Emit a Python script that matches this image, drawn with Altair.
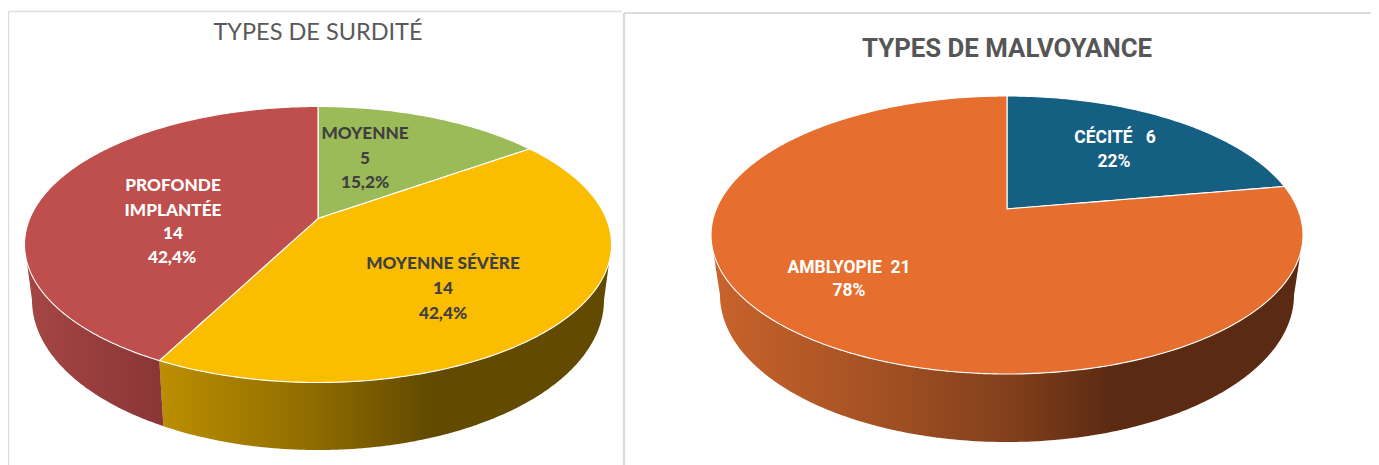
import math
import altair as alt
import pandas as pd

# ---- values ----
DEAF_NAMES = ["MOYENNE", "MOYENNE SÉVÈRE", "PROFONDE IMPLANTÉE"]
DEAF_VALUES = [5, 14, 14]
DEAF_COLORS = ["#9BBB59", "#FBBD00", "#BE4F4D"]
BLIND_NAMES = ["CÉCITÉ", "AMBLYOPIE"]
BLIND_VALUES = [6, 21]
BLIND_COLORS = ["#156082", "#E66F30"]

TITLE_LEFT = "TYPES DE SURDITÉ"
TITLE_RIGHT = "TYPES DE MALVOYANCE"

# ---- layout (page pixels) ----
W, H = 1363, 457
LEFT = dict(cx=318, apex=218.5, top=106.5, bottom=382.5, rx=293.5,
            low_cy=300, low_rx=286, low_ry=150, join=262)
RIGHT = dict(cx=1007, apex=209, top=96, bottom=374, rx=296,
             low_cy=295, low_rx=287, low_ry=147, join=253)


def make_proj(g):
    up = g["apex"] - g["top"]
    down = g["bottom"] - g["apex"]
    k = (up - down) / (up + down)
    a = down * (1 + k)
    b = g["rx"] * math.sqrt(1 - k * k)

    def proj(phi):
        u, v = math.sin(phi), -math.cos(phi)
        d = 1 + k * v
        return g["cx"] + b * u / d, g["apex"] + a * v / d
    return proj


def arc(proj, p0, p1, step=math.radians(1)):
    n = max(2, int(abs(p1 - p0) / step) + 1)
    return [proj(p0 + (p1 - p0) * i / n) for i in range(n + 1)]


def sweep(poly, apex_x=None):
    """Turn a polygon into x / y_top / y_bottom rows for an area mark."""
    xs = {round(p[0], 3) for p in poly}
    if apex_x is not None:
        xs |= {apex_x - 0.01, apex_x + 0.01}
    rows = []
    n = len(poly)
    for x in sorted(xs):
        ys = []
        for i in range(n):
            (x0, y0), (x1, y1) = poly[i], poly[(i + 1) % n]
            if min(x0, x1) - 1e-3 <= x <= max(x0, x1) + 1e-3:
                if abs(x1 - x0) < 1e-3:
                    ys += [y0, y1]
                else:
                    t = min(1, max(0, (x - x0) / (x1 - x0)))
                    ys.append(y0 + (y1 - y0) * t)
        if ys:
            rows.append({"x": x, "y": min(ys), "y2": max(ys)})
    return pd.DataFrame(rows)


X = alt.X("x:Q", axis=None, scale=alt.Scale(domain=[8, 8 + W], nice=False, zero=False))
Y = alt.Y("y:Q", axis=None, scale=alt.Scale(domain=[8 + H, 8], nice=False, zero=False))


def area(df, fill, stroke="#FFFFFF", sw=1.1):
    return alt.Chart(df).mark_area(color=fill, stroke=stroke, strokeWidth=sw, opacity=1,
                                   interpolate="linear").encode(X, Y, y2="y2:Q")


def grad(stops):
    return alt.Gradient(gradient="linear", x1=0, x2=1, y1=0, y2=0,
                        stops=[alt.GradientStop(color=c, offset=o) for o, c in stops])


def low_point(g, theta):
    return g["cx"] + g["low_rx"] * math.cos(theta), g["low_cy"] + g["low_ry"] * math.sin(theta)


def low_y(g, x):
    return g["low_cy"] + g["low_ry"] * math.sqrt(1 - ((x - g["cx"]) / g["low_rx"]) ** 2)


def low_arc(g, x_from, x_to):
    """Lower rim of the wall, from x_from to x_to."""
    pts = [low_point(g, math.pi * i / 180) for i in range(181)]   # right (0) to left (pi)
    pts = [p for p in pts if min(x_from, x_to) <= p[0] <= max(x_from, x_to)]
    return pts if x_from > x_to else pts[::-1]


def find_join(g, proj):
    # phi on the front rim at which the wall's side edges start
    def solve(lo, hi):
        for _ in range(50):
            mid = (lo + hi) / 2
            if (proj(mid)[1] > g["join"]) == (proj(lo)[1] > g["join"]):
                lo = mid
            else:
                hi = mid
        return (lo + hi) / 2
    return solve(math.pi / 2, math.pi), solve(math.pi, 1.5 * math.pi)


def pie_layers(g, values, colors, walls):
    proj = make_proj(g)
    total = sum(values)
    bounds = [0]
    for v in values:
        bounds.append(bounds[-1] + 2 * math.pi * v / total)
    right_phi, left_phi = find_join(g, proj)
    layers = []

    # walls: each entry is (start phi, end phi, gradient)
    for p0, p1, stops in walls(bounds, right_phi, left_phi):
        top = arc(proj, p0, p1)
        x_start, x_end = top[0][0], top[-1][0]
        end_low = low_point(g, math.pi) if p1 == left_phi else None
        start_low = low_point(g, 0) if p0 == right_phi else None
        xa = end_low[0] if end_low else x_end + 4
        xb = start_low[0] if start_low else x_start + 4
        bottom = low_arc(g, xa, xb)
        if not end_low:
            bottom = [(xa, low_y(g, xa))] + bottom
        if not start_low:
            bottom = bottom + [(xb, low_y(g, xb))]
        layers.append(area(sweep(top + bottom), grad(stops), stroke="#F2F2F2", sw=0.0))

    # top face
    for i, col in enumerate(colors):
        poly = [(g["cx"], g["apex"])] + arc(proj, bounds[i], bounds[i + 1])
        layers.append(area(sweep(poly, apex_x=g["cx"]), col))
    return layers


def left_walls(b, r, l):
    return [
        (r, b[2], [(0, "#BC8E00"), (0.35, "#8E6B00"), (0.60, "#624A00"), (1, "#624A00")]),
        (b[2], l, [(0, "#A54644"), (1, "#8A3536")]),
    ]


def right_walls(b, r, l):
    return [(r, l, [(0, "#C8632B"), (0.25, "#A85324"), (0.5, "#83401C"),
                    (0.68, "#5B2A12"), (1, "#5B2A12")])]


# ---- text ----
DARK_LABELS = pd.DataFrame({
    "t": ["MOYENNE", "5", "15,2%", "MOYENNE SÉVÈRE", "14", "42,4%"],
    "x": [365, 365, 365, 443, 443, 443],
    "y": [134, 159, 183, 264, 289, 314],
})
LIGHT_LABELS = pd.DataFrame({
    "t": ["PROFONDE", "IMPLANTÉE", "14", "42,4%"],
    "x": [173, 173, 173, 172],
    "y": [186, 211, 234, 258],
})
RIGHT_LABELS = pd.DataFrame({
    "t": ["CÉCITÉ\u00a0\u00a0\u00a06", "22%", "AMBLYOPIE\u00a0\u00a021", "78%"],
    "x": [1115, 1114, 849, 849],
    "y": [138, 162, 268, 291],
})
TITLES_L = pd.DataFrame({"t": [TITLE_LEFT], "x": [318], "y": [33]})
TITLES_R = pd.DataFrame({"t": [TITLE_RIGHT], "x": [1007], "y": [49]})


def text(df, font, size, color, weight="bold"):
    return alt.Chart(df).mark_text(font=font, fontSize=size, color=color, fontWeight=weight,
                                   align="center", baseline="middle").encode(X, Y, text="t:N")


# ---- panel borders ----
BORDERS = pd.DataFrame({
    "x": [8.5, 8.5, 624, 624],
    "y": [11.5, 11.5, 13, 13],
    "x2": [622, 8.5, 1371, 624],
    "y2": [11.5, 465, 13, 465],
    "w": [1.5, 1.5, 2, 2.5],
})
borders = alt.Chart(BORDERS).mark_rule(color="#DDDDDD").encode(
    X, Y, x2="x2:Q", y2="y2:Q", strokeWidth=alt.StrokeWidth("w:Q", scale=None))

chart = alt.layer(
    borders,
    *pie_layers(LEFT, DEAF_VALUES, DEAF_COLORS, left_walls),
    *pie_layers(RIGHT, BLIND_VALUES, BLIND_COLORS, right_walls),
    text(TITLES_L, "Lato", 23.5, "#595959", "normal"),
    text(TITLES_R, "Roboto", 25.8, "#565656"),
    text(DARK_LABELS, "Lato", 17.2, "#404040", 900),
    text(LIGHT_LABELS, "Lato", 17.2, "#FFFFFF", 900),
    text(RIGHT_LABELS, "Roboto", 17.5, "#FFFFFF"),
).properties(width=W, height=H, padding=0, autosize="none",
             background="#FFFFFF").configure_view(stroke=None)

chart.save("out.html", embed_options={"renderer": "svg", "actions": False})
